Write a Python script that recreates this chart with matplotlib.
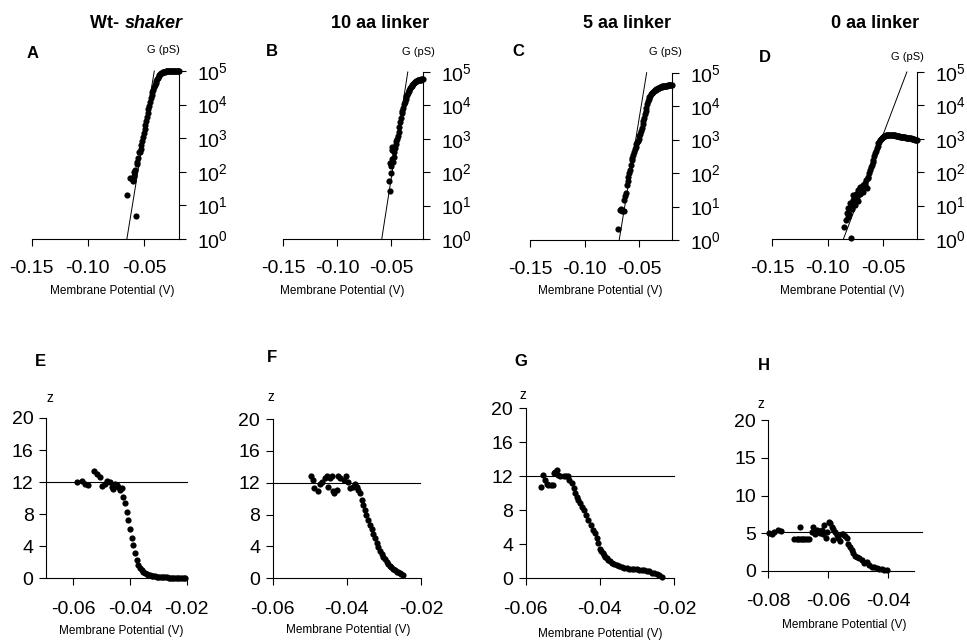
import matplotlib
matplotlib.use('Agg')
import matplotlib.pyplot as plt

plt.rcParams['font.family'] = ['Liberation Sans', 'DejaVu Sans']
plt.rcParams['mathtext.fontset'] = 'custom'
plt.rcParams['mathtext.rm'] = 'Liberation Sans'
plt.rcParams['mathtext.it'] = 'Liberation Sans:italic'
plt.rcParams['mathtext.bf'] = 'Liberation Sans:bold'
plt.rcParams['axes.unicode_minus'] = False

# ---------------- data: top row, conductance G (pS) vs membrane potential (V)
a_v_scatter = [-0.0652, -0.0569, -0.0620, -0.0608, -0.0598, -0.0590, -0.0593, -0.0578, -0.0565, -0.0560, -0.0552, -0.0545, -0.0538]
a_g_scatter = [21, 4.9, 65, 60, 55, 75, 100, 110, 200, 170, 250, 400, 380]
a_v_dense = [-0.0530, -0.0523, -0.0516, -0.0509, -0.0502, -0.0495, -0.0488, -0.0481, -0.0474, -0.0467,
             -0.0460, -0.0453, -0.0446, -0.0439, -0.0432, -0.0425, -0.0418, -0.0411, -0.0404, -0.0397,
             -0.0390, -0.0383, -0.0376, -0.0369, -0.0362, -0.0355, -0.0348, -0.0341, -0.0334, -0.0327,
             -0.0320, -0.0313, -0.0306, -0.0299, -0.0292, -0.0285, -0.0278, -0.0271, -0.0264, -0.0257,
             -0.0250, -0.0243, -0.0236, -0.0229, -0.0222, -0.0215, -0.0208, -0.0201, -0.0194, -0.0187]
a_g_dense = [470, 620, 820, 1100, 1450, 1900, 2500, 3300, 4300, 5600,
             7200, 9300, 12000, 15500, 19500, 23500, 28000, 33000, 38000, 44000,
             50000, 56000, 63000, 70000, 76000, 80000, 85000, 88000, 91000, 93000,
             95000, 96500, 97500, 98000, 98500, 99000, 99200, 99400, 99600, 99700,
             99800, 99900, 100000, 100000, 100000, 100000, 100000, 100000, 100000, 100000]
a_fit_v = [-0.0652, -0.0408]
a_fit_g = [1, 1e5]

b_v_scatter = [-0.0512, -0.0518, -0.0506, -0.0510, -0.0500, -0.0487, -0.0495, -0.0475, -0.0497, -0.0490, -0.0466, -0.0480]
b_g_scatter = [28, 55, 93, 190, 150, 200, 250, 290, 580, 450, 520, 400]
b_v_dense = [-0.0460, -0.0453, -0.0446, -0.0439, -0.0432, -0.0425, -0.0418, -0.0411, -0.0404, -0.0397,
             -0.0390, -0.0383, -0.0376, -0.0369, -0.0362, -0.0355, -0.0348, -0.0341, -0.0334, -0.0327,
             -0.0320, -0.0313, -0.0306, -0.0299, -0.0292, -0.0285, -0.0278, -0.0271, -0.0264, -0.0257,
             -0.0250, -0.0243, -0.0236, -0.0229, -0.0222, -0.0215, -0.0208]
b_g_dense = [700, 850, 1000, 1200, 1600, 2200, 3100, 4200, 5800, 7000,
             8500, 11000, 13000, 15500, 18500, 21000, 24000, 27000, 29500, 32500,
             35500, 38500, 41500, 44500, 47000, 49500, 51500, 53000, 54500, 56000,
             57000, 58000, 59000, 59500, 60000, 60500, 61000]
b_fit_v = [-0.0589, -0.0348]
b_fit_g = [1, 1e5]

c_v_scatter = [-0.0698, -0.0677, -0.0668, -0.0655, -0.0640, -0.0641, -0.0630, -0.0622, -0.0616, -0.0608,
               -0.0601, -0.0593, -0.0586, -0.0578, -0.0570, -0.0563, -0.0556, -0.0548, -0.0541, -0.0534,
               -0.0527, -0.0520, -0.0513]
c_g_scatter = [2.1, 7.9, 8.2, 7.6, 7.5, 15.6, 20, 25, 44, 60,
               78, 100, 123, 170, 245, 290, 345, 420, 510, 610,
               720, 830, 940]
c_v_dense = [-0.0506, -0.0499, -0.0492, -0.0485, -0.0478, -0.0471, -0.0464, -0.0457, -0.0450, -0.0443,
             -0.0436, -0.0429, -0.0422, -0.0415, -0.0408, -0.0401, -0.0394, -0.0387, -0.0380, -0.0373,
             -0.0366, -0.0359, -0.0352, -0.0345, -0.0338, -0.0331, -0.0324, -0.0317, -0.0310, -0.0303,
             -0.0296, -0.0289, -0.0282, -0.0275, -0.0268, -0.0261, -0.0254, -0.0247, -0.0240, -0.0233,
             -0.0226, -0.0219, -0.0212, -0.0205]
c_g_dense = [1080, 1260, 1500, 1850, 2300, 2900, 3600, 4500, 5700, 7200,
             9000, 11500, 14000, 16500, 18500, 20500, 22500, 24000, 25500, 27000,
             28500, 30000, 31000, 32000, 33000, 34000, 35000, 36000, 36800, 37500,
             38200, 38800, 39300, 39800, 40200, 40600, 41000, 41300, 41600, 41900,
             42100, 42300, 42500, 42600]
c_fit_v = [-0.0684, -0.0433]
c_fit_g = [1, 1e5]

d_v_scatter = [-0.0791, -0.0854, -0.0836, -0.0830, -0.0806, -0.0815, -0.0785, -0.0800, -0.0776, -0.0755,
               -0.0770, -0.0740, -0.0725, -0.0710, -0.0695, -0.0680, -0.0665, -0.0650, -0.0656, -0.0822,
               -0.0760, -0.0730, -0.0700, -0.0790, -0.0745, -0.0715, -0.0685, -0.0670]
d_g_scatter = [1.1, 2.3, 3.7, 5.9, 5.5, 8.3, 7.7, 11.7, 14.7, 10.4,
               21, 18.5, 29, 23, 37, 26, 47, 33, 58, 4.5,
               16, 14, 30, 9.5, 22, 35, 42, 40]
d_v_dense = [-0.0643, -0.0635, -0.0628, -0.0620, -0.0613, -0.0605, -0.0598, -0.0590, -0.0583, -0.0575,
             -0.0568, -0.0560, -0.0553, -0.0545, -0.0538, -0.0530, -0.0523, -0.0515, -0.0508, -0.0500,
             -0.0493, -0.0485, -0.0478, -0.0470, -0.0463, -0.0455, -0.0448, -0.0440, -0.0433, -0.0425,
             -0.0418, -0.0410, -0.0403, -0.0395, -0.0388, -0.0380, -0.0373, -0.0365, -0.0358, -0.0350,
             -0.0343, -0.0335, -0.0328, -0.0320, -0.0313, -0.0305, -0.0298, -0.0290, -0.0283, -0.0275,
             -0.0268, -0.0260, -0.0253, -0.0245, -0.0238, -0.0230, -0.0223, -0.0215, -0.0208, -0.0200]
d_g_dense = [66, 73, 95, 117, 140, 165, 200, 233, 300, 370,
             440, 520, 620, 740, 830, 900, 970, 1050, 1100, 1150,
             1200, 1250, 1280, 1300, 1310, 1320, 1320, 1310, 1300, 1300,
             1290, 1280, 1270, 1260, 1250, 1240, 1220, 1200, 1190, 1170,
             1160, 1150, 1140, 1120, 1110, 1100, 1090, 1080, 1070, 1060,
             1050, 1040, 1030, 1020, 1000, 980, 960, 940, 930, 920]
d_fit_v = [-0.0860, -0.0289]
d_fit_g = [1, 1e5]

# ---------------- data: bottom row, z vs membrane potential (V)
e_v = [-0.0586, -0.0571, -0.0559, -0.0547, -0.0526, -0.0518, -0.0506, -0.0500, -0.0488, -0.0482,
       -0.0471, -0.0465, -0.0459, -0.0453, -0.0447, -0.0441, -0.0435, -0.0429, -0.0424, -0.0418,
       -0.0412, -0.0406, -0.0400, -0.0394, -0.0388, -0.0382, -0.0376, -0.0371, -0.0365, -0.0359,
       -0.0353, -0.0347, -0.0341, -0.0335, -0.0329, -0.0324, -0.0318, -0.0312, -0.0306, -0.0300,
       -0.0294, -0.0288, -0.0282, -0.0276, -0.0270, -0.0264, -0.0259, -0.0253, -0.0247, -0.0241,
       -0.0235, -0.0229, -0.0223, -0.0217, -0.0211, -0.0206]
e_z = [12.0, 12.1, 11.8, 11.7, 13.4, 13.0, 12.7, 11.5, 11.8, 12.1,
       12.0, 11.4, 11.1, 11.8, 11.6, 11.4, 11.0, 11.3, 10.2, 9.4,
       8.3, 7.3, 6.1, 5.0, 4.2, 3.2, 2.3, 1.7, 1.25, 1.0,
       0.83, 0.68, 0.54, 0.45, 0.37, 0.33, 0.28, 0.24, 0.20, 0.18,
       0.15, 0.13, 0.12, 0.11, 0.10, 0.09, 0.08, 0.07, 0.06, 0.05,
       0.04, 0.03, 0.03, 0.02, 0.02, 0.01]
e_fit_v = [-0.0697, -0.0200]
e_fit_z = [12, 12]

f_v = [-0.0497, -0.0492, -0.0489, -0.0477, -0.0472, -0.0468, -0.0459, -0.0454, -0.0450, -0.0445,
       -0.0441, -0.0438, -0.0434, -0.0427, -0.0423, -0.0418, -0.0409, -0.0402, -0.0396, -0.0391,
       -0.0384, -0.0378, -0.0373, -0.0369, -0.0364, -0.0360, -0.0356, -0.0351, -0.0347, -0.0342,
       -0.0338, -0.0333, -0.0329, -0.0324, -0.0320, -0.0315, -0.0311, -0.0306, -0.0302, -0.0298,
       -0.0293, -0.0289, -0.0284, -0.0280, -0.0275, -0.0271, -0.0266, -0.0262, -0.0257, -0.0253,
       -0.0248]
f_z = [12.9, 12.3, 11.3, 11.0, 11.9, 12.1, 12.6, 12.8, 11.5, 12.6,
       12.8, 10.9, 10.7, 11.1, 12.8, 12.6, 12.3, 12.8, 12.1, 11.3,
       11.5, 11.8, 11.5, 11.1, 10.7, 9.8, 9.2, 8.6, 7.9, 7.3,
       6.7, 6.2, 5.6, 5.0, 4.4, 3.9, 3.4, 3.0, 2.7, 2.4,
       2.1, 1.85, 1.6, 1.4, 1.2, 1.0, 0.84, 0.73, 0.63, 0.52,
       0.42]
f_fit_v = [-0.0600, -0.0203]
f_fit_z = [12, 12]

g_v = [-0.0560, -0.0554, -0.0548, -0.0543, -0.0539, -0.0533, -0.0527, -0.0525, -0.0521, -0.0516,
       -0.0512, -0.0507, -0.0498, -0.0491, -0.0487, -0.0482, -0.0476, -0.0471, -0.0467, -0.0462,
       -0.0458, -0.0453, -0.0449, -0.0443, -0.0437, -0.0431, -0.0425, -0.0418, -0.0413, -0.0409,
       -0.0404, -0.0400, -0.0396, -0.0392, -0.0389, -0.0386, -0.0381, -0.0377, -0.0372, -0.0368,
       -0.0361, -0.0355, -0.0348, -0.0341, -0.0335, -0.0328, -0.0321, -0.0314, -0.0308, -0.0301,
       -0.0294, -0.0287, -0.0280, -0.0274, -0.0267, -0.0260, -0.0254, -0.0247, -0.0240, -0.0233]
g_z = [10.7, 12.1, 11.6, 11.1, 11.0, 11.0, 11.0, 12.4, 12.5, 12.7,
       12.1, 12.0, 12.0, 12.0, 12.0, 11.6, 11.2, 10.6, 10.0, 9.6,
       9.2, 8.8, 8.4, 8.0, 7.5, 6.9, 6.3, 5.7, 5.3, 4.7,
       4.1, 3.5, 3.2, 3.0, 2.75, 2.5, 2.35, 2.2, 2.0, 1.8,
       1.7, 1.6, 1.45, 1.3, 1.25, 1.2, 1.15, 1.1, 1.08, 1.06,
       1.03, 1.0, 0.97, 0.9, 0.82, 0.67, 0.57, 0.47, 0.33, 0.2]
g_fit_v = [-0.0600, -0.0200]
g_fit_z = [12, 12]

h_v = [-0.0797, -0.0789, -0.0781, -0.0767, -0.0759, -0.0714, -0.0706, -0.0700, -0.0694, -0.0688,
       -0.0683, -0.0677, -0.0672, -0.0663, -0.0694, -0.0656, -0.0650, -0.0644, -0.0639, -0.0633,
       -0.0628, -0.0622, -0.0617, -0.0613, -0.0608, -0.0603, -0.0598, -0.0594, -0.0589, -0.0586,
       -0.0583, -0.0578, -0.0572, -0.0567, -0.0561, -0.0556, -0.0550, -0.0544, -0.0539, -0.0533,
       -0.0528, -0.0522, -0.0517, -0.0511, -0.0506, -0.0497, -0.0489, -0.0481, -0.0472, -0.0464,
       -0.0456, -0.0448, -0.0439, -0.0430, -0.0422, -0.0414, -0.0406]
h_z = [4.97, 4.9, 5.1, 5.4, 5.3, 4.2, 4.2, 4.2, 4.2, 4.2,
       4.2, 4.2, 4.2, 4.2, 5.85, 5.1, 5.85, 4.9, 5.4, 5.3,
       5.0, 5.4, 4.9, 6.1, 4.3, 5.2, 6.5, 6.3, 5.85, 4.1,
       5.5, 5.2, 4.7, 4.3, 3.9, 4.9, 4.9, 4.6, 4.3, 3.6,
       3.2, 2.75, 2.3, 1.95, 1.86, 1.64, 1.42, 0.98, 1.2, 0.75,
       0.53, 0.44, 0.35, 0.27, 0.18, 0.13, 0.09]
h_fit_v = [-0.0800, -0.0289]
h_fit_z = [5.1, 5.1]

top_xticks = [-0.15, -0.10, -0.05]
top_xticklabels = ['-0.15', '-0.10', '-0.05']
top_yticks = [1, 10, 100, 1000, 10000, 100000]
top_yticklabels = ['$10^{0}$', '$10^{1}$', '$10^{2}$', '$10^{3}$', '$10^{4}$', '$10^{5}$']

titles = ['Wt- ', '10 aa linker', '5 aa linker', '0 aa linker']
letters_top = ['A', 'B', 'C', 'D']
letters_bottom = ['E', 'F', 'G', 'H']

# ---------------- layout (pixels)
W, H = 967, 644
fig = plt.figure(figsize=(W / 100, H / 100), dpi=100)


def rect(x0, y0, x1, y1):
    return [x0 / W, 1 - y1 / H, (x1 - x0) / W, (y1 - y0) / H]


def ftext(x, y, s, **kw):
    fig.text(x / W, 1 - y / H, s, **kw)


TICK_FS = 14
DOT = 20

top_boxes = [(31.7, 71, 179.3, 239), (283.3, 72, 422.7, 239), (530, 72.7, 671.7, 240), (772.3, 72, 917.3, 239)]
top_xmax = [-0.0185, -0.0210, -0.0204, -0.0195]
top_data = [
    (a_v_scatter, a_g_scatter, a_v_dense, a_g_dense, a_fit_v, a_fit_g),
    (b_v_scatter, b_g_scatter, b_v_dense, b_g_dense, b_fit_v, b_fit_g),
    (c_v_scatter, c_g_scatter, c_v_dense, c_g_dense, c_fit_v, c_fit_g),
    (d_v_scatter, d_g_scatter, d_v_dense, d_g_dense, d_fit_v, d_fit_g),
]

for box, xmax, (vs, gs, vd, gd, fv, fg) in zip(top_boxes, top_xmax, top_data):
    ax = fig.add_axes(rect(*box))
    ax.set_yscale('log')
    ax.plot(fv, fg, color='black', lw=0.7, clip_on=False, zorder=2)
    ax.scatter(vs, gs, s=DOT, color='black', linewidths=0, clip_on=False, zorder=3)
    ax.scatter(vd, gd, s=DOT, color='black', linewidths=0, clip_on=False, zorder=3)
    ax.set_xlim(-0.15, xmax)
    ax.set_ylim(1, 1e5)
    for s in ['left', 'top']:
        ax.spines[s].set_visible(False)
    for s in ['right', 'bottom']:
        ax.spines[s].set_linewidth(0.8)
    ax.yaxis.tick_right()
    ax.set_xticks(top_xticks)
    ax.set_xticklabels(top_xticklabels)
    ax.set_yticks(top_yticks)
    ax.set_yticklabels(top_yticklabels)
    ax.minorticks_off()
    ax.tick_params(axis='x', direction='out', length=5, width=0.8, pad=10, labelsize=TICK_FS)
    ax.tick_params(axis='y', direction='out', length=5, width=0.8, pad=8, labelsize=TICK_FS)
    ax.patch.set_visible(False)

bottom_boxes = [(46, 418, 186.7, 578.3), (272.7, 419, 421, 578.3), (525.7, 408.3, 674, 578.3), (768.3, 420.3, 921.7, 570.7)]
bottom_xlim = [(-0.0697, -0.0200), (-0.06, -0.02), (-0.06, -0.02), (-0.08, -0.0289)]
bottom_xbound = [(-0.0697, -0.0200), (-0.06, -0.02), (-0.06, -0.02), (-0.08, -0.0313)]
bottom_xticks = [[-0.06, -0.04, -0.02], [-0.06, -0.04, -0.02], [-0.06, -0.04, -0.02], [-0.08, -0.06, -0.04]]
bottom_xticklabels = [['-0.06', '-0.04', '-0.02'], ['-0.06', '-0.04', '-0.02'], ['-0.06', '-0.04', '-0.02'], ['-0.08', '-0.06', '-0.04']]
bottom_yticks = [[0, 4, 8, 12, 16, 20], [0, 4, 8, 12, 16, 20], [0, 4, 8, 12, 16, 20], [0, 5, 10, 15, 20]]
bottom_data = [(e_v, e_z, e_fit_v, e_fit_z), (f_v, f_z, f_fit_v, f_fit_z), (g_v, g_z, g_fit_v, g_fit_z), (h_v, h_z, h_fit_v, h_fit_z)]

for box, xl, xb, xt, xtl, yt, (v, z, fv, fz) in zip(bottom_boxes, bottom_xlim, bottom_xbound, bottom_xticks,
                                                   bottom_xticklabels, bottom_yticks, bottom_data):
    ax = fig.add_axes(rect(*box))
    ax.plot(fv, fz, color='black', lw=0.8, clip_on=False, zorder=2)
    ax.scatter(v, z, s=DOT, color='black', linewidths=0, clip_on=False, zorder=3)
    ax.set_xlim(*xl)
    ax.set_ylim(0, 20)
    for s in ['right', 'top']:
        ax.spines[s].set_visible(False)
    for s in ['left', 'bottom']:
        ax.spines[s].set_linewidth(0.8)
    ax.spines['bottom'].set_bounds(*xb)
    ax.set_xticks(xt)
    ax.set_xticklabels(xtl)
    ax.set_yticks(yt)
    ax.set_yticklabels([str(t) for t in yt])
    ax.tick_params(axis='x', direction='out', length=5, width=0.8, pad=11, labelsize=TICK_FS)
    ax.tick_params(axis='y', direction='out', length=5, width=0.8, pad=4, labelsize=TICK_FS)
    ax.patch.set_visible(False)

# ---------------- texts
ftext(124, 23, 'Wt- ', ha='right', va='center', fontsize=13, fontweight='bold')
ftext(125, 23, 'shaker', ha='left', va='center', fontsize=13, fontweight='bold', style='italic')
for cx, t in zip([380, 627, 875], titles[1:]):
    ftext(cx, 23, t, ha='center', va='center', fontsize=13, fontweight='bold')

for (x, y), t in zip([(33, 54), (272, 52), (518, 52), (765, 57)], letters_top):
    ftext(x, y, t, ha='center', va='center', fontsize=12, fontweight='bold')
for (x, y), t in zip([(40, 362), (272, 358), (521, 361), (764, 365)], letters_bottom):
    ftext(x, y, t, ha='center', va='center', fontsize=12, fontweight='bold')

for x, y in [(163, 50), (418, 52), (665, 52), (907, 57)]:
    ftext(x, y, 'G (pS)', ha='center', va='center', fontsize=8)

for x, y in [(50, 398), (271, 397), (523, 395), (761, 404)]:
    ftext(x, y, 'z', ha='center', va='center', fontsize=10)

for x in [112, 342, 600, 842]:
    ftext(x, 291, 'Membrane Potential (V)', ha='center', va='center', fontsize=8.5)
for x, y in [(121, 631), (348, 630), (600, 634), (844, 625)]:
    ftext(x, y, 'Membrane Potential (V)', ha='center', va='center', fontsize=8.5)

fig.savefig('out.png', dpi=100)
